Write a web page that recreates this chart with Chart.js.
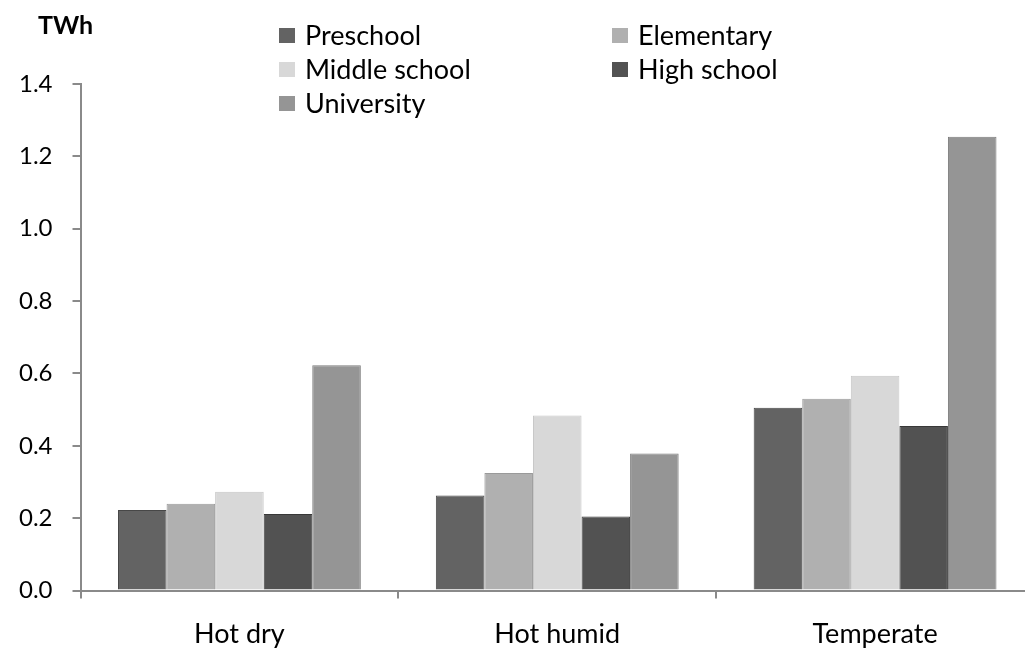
<!DOCTYPE html>
<html>
<head>
<meta charset="utf-8">
<script src="https://cdn.jsdelivr.net/npm/chart.js@4/dist/chart.umd.min.js"></script>
<style>
  html, body { margin: 0; padding: 0; background: #fff; overflow: hidden; }
  #clip { width: 1025px; height: 648px; overflow: hidden; }
  /* plot runs past the right edge in the original, so the canvas is a bit larger and clipped */
  #wrap { width: 1060px; height: 669px; margin-left: -20px; position: relative; }
</style>
</head>
<body>
<div id="clip"><div id="wrap"><canvas id="chart"></canvas></div></div>
<script>
const categories = ["Hot dry", "Hot humid", "Temperate"];
const preschool = [0.223, 0.263, 0.505];
const elementary = [0.240, 0.325, 0.530];
const middleSchool = [0.273, 0.484, 0.594];
const highSchool = [0.212, 0.205, 0.455];
const university = [0.623, 0.379, 1.254];
const yTicks = [0, 0.2, 0.4, 0.6, 0.8, 1.0, 1.2, 1.4];

// legend is drawn by hand: two fixed columns like the original figure
const sideLegend = {
  id: "sideLegend",
  afterDraw(chart) {
    const ctx = chart.ctx;
    ctx.save();
    ctx.translate(20, 0); // undo the wrapper shift
    ctx.textBaseline = "middle";
    ctx.fillStyle = "#000";
    ctx.font = "bold 25px Lato";
    ctx.fillText("TWh", 38, 26);
    ctx.font = "27px Lato";
    chart.data.datasets.forEach((ds, i) => {
      const x = i % 2 ? 612 : 279;
      const y = 35 + Math.floor(i / 2) * 34;
      ctx.fillStyle = ds.backgroundColor;
      ctx.fillRect(x, y - 7, 16, 15);
      ctx.fillStyle = "#000";
      ctx.fillText(ds.label, x + 26, y + 1);
    });
    ctx.restore();
  },
};

const ds = (label, data, bg, border) => ({
  label,
  data,
  backgroundColor: bg,
  borderColor: border,
  borderWidth: 1,
  categoryPercentage: 0.764,
  barPercentage: 1.0,
});

new Chart(document.getElementById("chart"), {
  type: "bar",
  data: {
    labels: categories,
    datasets: [
      ds("Preschool", preschool, "#636363", "#474747"),
      ds("Elementary", elementary, "#b0b0b0", "#9a9a9a"),
      ds("Middle school", middleSchool, "#d8d8d8", "#c6c6c6"),
      ds("High school", highSchool, "#525252", "#383838"),
      ds("University", university, "#959595", "#7c7c7c"),
    ],
  },
  options: {
    responsive: true,
    maintainAspectRatio: false,
    animation: false,
    layout: { padding: { top: 84, left: 19, right: 6, bottom: 0 } },
    plugins: { legend: { display: false }, tooltip: { enabled: false } },
    scales: {
      x: {
        grid: {
          offset: true,
          drawOnChartArea: false,
          drawTicks: true,
          tickLength: 8,
          color: "#8a8a8a",
          lineWidth: 2,
        },
        border: { display: true, color: "#8a8a8a", width: 2 },
        ticks: { color: "#000", font: { family: "Lato", size: 27 }, padding: 19 },
      },
      y: {
        min: 0,
        max: 1.4,
        afterBuildTicks: (axis) => {
          axis.ticks = yTicks.map((v) => ({ value: v }));
        },
        grid: {
          drawOnChartArea: false,
          drawTicks: true,
          tickLength: 8,
          color: "#8a8a8a",
          lineWidth: 2,
        },
        border: { display: true, color: "#8a8a8a", width: 2 },
        ticks: {
          color: "#000",
          font: { family: "Lato", size: 24 },
          padding: 20,
          callback: (v) => Number(v).toFixed(1),
        },
      },
    },
  },
  plugins: [sideLegend],
});
</script>
</body>
</html>
